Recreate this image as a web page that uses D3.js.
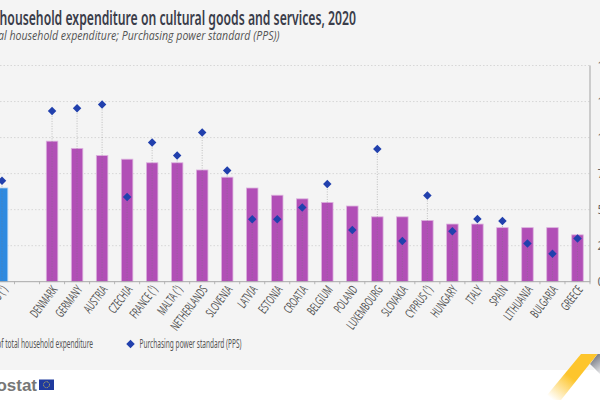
<!DOCTYPE html>
<html>
<head>
<meta charset="UTF-8">
<title>Household expenditure on cultural goods and services, 2020</title>
<script src="https://cdn.jsdelivr.net/npm/d3@7"></script>
<style>
html, body {margin: 0; padding: 0; background: #fff; overflow: hidden;}
svg {display: block;}
text {font-family: "Noto Sans", sans-serif;}
</style>
</head>
<body>
<div id="chart"></div>
<script>
var countries = ["EU (¹)", "", "DENMARK", "GERMANY", "AUSTRIA", "CZECHIA", "FRANCE (¹)", "MALTA (¹)", "NETHERLANDS", "SLOVENIA", "LATVIA", "ESTONIA", "CROATIA", "BELGIUM", "POLAND", "LUXEMBOURG", "SLOVAKIA", "CYPRUS (¹)", "HUNGARY", "ITALY", "SPAIN", "LITHUANIA", "BULGARIA", "GREECE"];
var shares = [2.6, null, 3.9, 3.7, 3.5, 3.4, 3.3, 3.3, 3.1, 2.9, 2.6, 2.4, 2.3, 2.2, 2.1, 1.8, 1.8, 1.7, 1.6, 1.6, 1.5, 1.5, 1.5, 1.3];
var pps = [700, null, 1185, 1204, 1230, 588, 965, 876, 1035, 772, 433, 433, 515, 678, 359, 921, 283, 598, 350, 435, 421, 265, 194, 299];
var ppsTicks = [0, 250, 500, 750, 1000, 1250, 1500];
var ppsLabels = ["0", "250", "500", "750", "1 000", "1 250", "1 500"];

var w = 600, h = 400;
var baseY = 281.7, topY = 65.5, axisX = 590;

var svg = d3.select("#chart").append("svg").attr("width", w).attr("height", h);

// grey panel, the white footer shows below it
svg.append("rect").attr("width", w).attr("height", 370).attr("fill", "#f4f4f4");

var x = d3.scaleBand().domain(countries).range([-10.5, axisX]);
var yShare = d3.scaleLinear().domain([0, 6]).range([baseY, topY]);
var yPps = d3.scaleLinear().domain([0, 1500]).range([baseY, topY]);

// no condensed font here, so squeeze a text to a given width
function fit(sel, width) {
  return sel.attr("textLength", width).attr("lengthAdjust", "spacingAndGlyphs");
}

// title and subtitle run off the left edge, so place them by their left end
svg.append("text").attr("x", -37).attr("y", 24.5)
  .attr("font-size", 20).attr("font-weight", 600).attr("fill", "#3a3d4a")
  .call(fit, 393)
  .text("Mean household expenditure on cultural goods and services, 2020");
svg.append("text").attr("x", -41).attr("y", 40)
  .attr("font-size", 13.5).attr("font-style", "italic").attr("fill", "#555")
  .style("font-family", "'Open Sans', sans-serif")
  .call(fit, 320.5)
  .text("(% of total household expenditure; Purchasing power standard (PPS))");

// gridlines
svg.append("g").selectAll("line").data(ppsTicks.slice(1)).enter().append("line")
  .attr("x1", 0).attr("x2", axisX)
  .attr("y1", d => yPps(d)).attr("y2", d => yPps(d))
  .attr("stroke", "#cfcfcf").attr("stroke-width", 0.8).attr("stroke-dasharray", "1.5,2");

// bars
var barW = 11.5;
svg.append("g").selectAll("rect").data(countries).enter()
  .filter((d, i) => shares[i] != null).append("rect")
  .attr("x", d => x(d) + x.bandwidth() / 2 - barW / 2)
  .attr("width", barW)
  .attr("y", d => yShare(shares[countries.indexOf(d)]))
  .attr("height", d => baseY - yShare(shares[countries.indexOf(d)]))
  .attr("fill", d => d.startsWith("EU") ? "#2e8ae0" : "#b14fb6")
  .attr("stroke", d => d.startsWith("EU") ? "#a3cdf3" : "#dcb1de")
  .attr("stroke-width", 0.8);

// drop lines from the diamonds
svg.append("g").selectAll("line").data(countries).enter()
  .filter((d, i) => pps[i] != null).append("line")
  .attr("x1", d => x(d) + x.bandwidth() / 2).attr("x2", d => x(d) + x.bandwidth() / 2)
  .attr("y1", d => yPps(pps[countries.indexOf(d)])).attr("y2", baseY)
  .attr("stroke", "#777").attr("stroke-opacity", 0.6).attr("stroke-width", 0.7).attr("stroke-dasharray", "1,1.5");

// baseline and right axis
svg.append("line").attr("x1", 0).attr("x2", axisX).attr("y1", baseY).attr("y2", baseY)
  .attr("stroke", "#a8a8a8").attr("stroke-width", 1);
svg.append("line").attr("x1", axisX).attr("x2", axisX).attr("y1", topY).attr("y2", baseY + 0.5)
  .attr("stroke", "#b0b0b0").attr("stroke-width", 1.2);

// ticks sit between the categories
svg.append("g").selectAll("line").data(countries).enter().append("line")
  .attr("x1", d => x(d) + x.step()).attr("x2", d => x(d) + x.step())
  .attr("y1", baseY).attr("y2", baseY + 2.5)
  .attr("stroke", "#a8a8a8").attr("stroke-width", 0.8);

// diamonds
var diamond = d3.symbol().type(d3.symbolSquare).size(36);
svg.append("g").selectAll("path").data(countries).enter()
  .filter((d, i) => pps[i] != null).append("path")
  .attr("d", diamond)
  .attr("transform", d => "translate(" + (x(d) + x.bandwidth() / 2) + "," + yPps(pps[countries.indexOf(d)]) + ") rotate(45)")
  .attr("fill", "#2140ad");

// category labels
var xAxis = d3.axisBottom(x).tickSize(0).tickPadding(0);
var gx = svg.append("g").attr("transform", "translate(0," + baseY + ")").call(xAxis);
gx.select(".domain").remove();
gx.selectAll("text")
  .attr("font-size", 12.5).attr("fill", "#555").attr("text-anchor", "end")
  .attr("dy", 0).attr("y", 0)
  .attr("transform", "translate(6,8) rotate(-53) scale(0.6,1)")
  .style("font-family", "'Noto Sans', sans-serif");

// right axis labels, cut by the window edge
svg.append("g").selectAll("text").data(ppsTicks).enter().append("text")
  .attr("x", 597.5).attr("y", d => yPps(d) + 4)
  .attr("font-size", 12).attr("fill", "#666")
  .text((d, i) => ppsLabels[i]);

// legend
svg.append("text").attr("x", -10).attr("y", 348)
  .attr("font-size", 12.5).attr("fill", "#555")
  .call(fit, 103).text("% of total household expenditure");
svg.append("path").attr("d", diamond).attr("transform", "translate(130.5,344) rotate(45)").attr("fill", "#2140ad");
svg.append("text").attr("x", 139.5).attr("y", 348)
  .attr("font-size", 12.5).attr("fill", "#555")
  .call(fit, 102).text("Purchasing power standard (PPS)");

// eurostat logo
svg.append("text").attr("x", -30).attr("y", 390.5)
  .attr("font-size", 16).attr("font-weight", "bold").attr("fill", "#777")
  .style("font-family", "'Liberation Sans', sans-serif")
  .call(fit, 67).text("eurostat");
svg.append("rect").attr("x", 39).attr("y", 379.5).attr("width", 15).attr("height", 10.5).attr("fill", "#1f3a9e");
svg.append("circle").attr("cx", 46.5).attr("cy", 384.7).attr("r", 3).attr("fill", "none")
  .attr("stroke", "#d9c64a").attr("stroke-width", 0.9).attr("stroke-dasharray", "0.9,0.7");

// corner decoration
var defs = svg.append("defs");
var gy = defs.append("linearGradient").attr("id", "fadeY").attr("gradientUnits", "userSpaceOnUse")
  .attr("x1", 581).attr("y1", 365).attr("x2", 553).attr("y2", 400);
gy.append("stop").attr("offset", 0.35).attr("stop-color", "#fdc52c");
gy.append("stop").attr("offset", 1).attr("stop-color", "#fdc52c").attr("stop-opacity", 0);
var gg = defs.append("linearGradient").attr("id", "fadeG").attr("gradientUnits", "userSpaceOnUse")
  .attr("x1", 594).attr("y1", 358).attr("x2", 606).attr("y2", 374);
gg.append("stop").attr("offset", 0).attr("stop-color", "#7f828c");
gg.append("stop").attr("offset", 1).attr("stop-color", "#7f828c").attr("stop-opacity", 0);
svg.append("path").attr("d", "M597,354L600,354L612,378L601,378L590,364Z").attr("fill", "#fff");
svg.append("path").attr("d", "M597.5,354L612,354L612,386L590,364Z").attr("fill", "url(#fadeG)");
svg.append("path").attr("d", "M581,354L597.5,354L561,400L543,400Z").attr("fill", "url(#fadeY)");
</script>
</body>
</html>
